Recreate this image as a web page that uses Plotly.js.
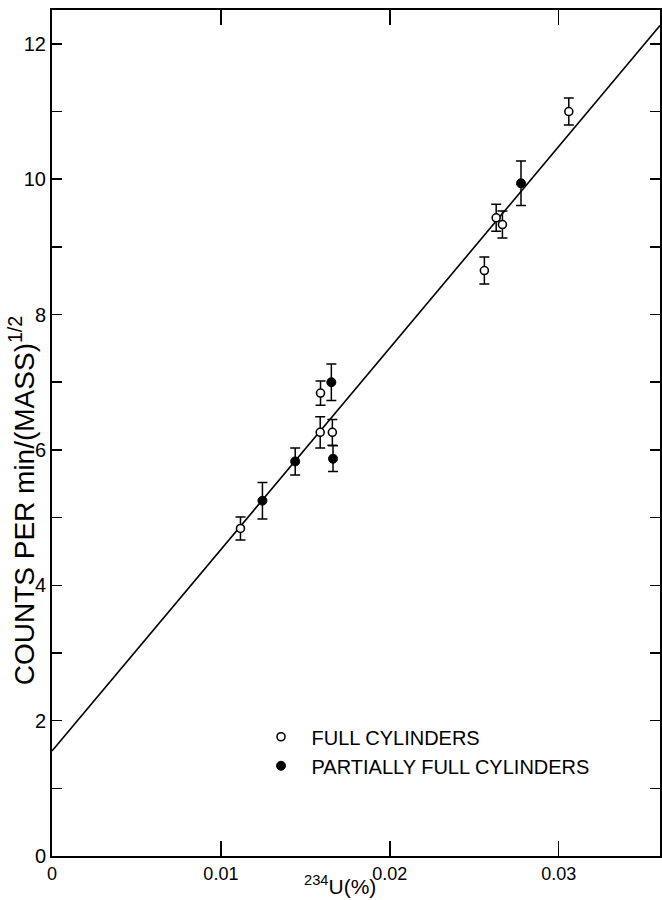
<!DOCTYPE html>
<html>
<head>
<meta charset="utf-8">
<script src="https://cdn.plot.ly/plotly-3.0.1.min.js"></script>
<style>
html,body{margin:0;padding:0;background:#fff;}
#chart{width:662px;height:900px;}
</style>
</head>
<body>
<div id="chart"></div>
<script>
// Full cylinders (open circles)
const fullX = [0.01116, 0.01588, 0.0159, 0.0166, 0.0256, 0.0263, 0.02667, 0.0306];
const fullY = [4.84, 6.26, 6.84, 6.26, 8.65, 9.43, 9.33, 11.0];
const fullErr = [0.17, 0.23, 0.18, 0.19, 0.2, 0.2, 0.2, 0.2];

// Partially full cylinders (filled circles)
const partX = [0.01246, 0.0144, 0.01654, 0.01664, 0.02777];
const partY = [5.25, 5.83, 7.0, 5.87, 9.94];
const partErr = [0.27, 0.2, 0.27, 0.19, 0.33];

// Fitted straight line
const fitX = [0, 0.036];
const fitY = [1.55, 12.27];

// Axis ticks
const xTickVals = [0, 0.01, 0.02, 0.03];
const xTickText = ['0', '0.01', '0.02', '0.03'];
const yTickVals = [0, 2, 4, 6, 8, 10, 12];
const yTickText = ['0', '2', '4', '6', '8', '10', '12'];
const yMinorVals = [1, 3, 5, 7, 9, 11];

const FONT = 'Liberation Sans, Arial, sans-serif';

const traces = [
  {
    x: fitX, y: fitY, mode: 'lines', type: 'scatter', showlegend: false,
    line: {color: 'black', width: 1.6}, hoverinfo: 'skip'
  },
  {
    x: fullX, y: fullY, mode: 'markers', type: 'scatter', name: 'FULL CYLINDERS',
    marker: {symbol: 'circle', size: 8, color: 'white', line: {color: 'black', width: 1.6}},
    error_y: {type: 'data', array: fullErr, visible: true, color: 'black', thickness: 1.5, width: 5}
  },
  {
    x: partX, y: partY, mode: 'markers', type: 'scatter', name: 'PARTIALLY FULL CYLINDERS',
    marker: {symbol: 'circle', size: 9, color: 'black', line: {color: 'black', width: 1}},
    error_y: {type: 'data', array: partErr, visible: true, color: 'black', thickness: 1.5, width: 5}
  }
];

const layout = {
  width: 662, height: 900,
  margin: {l: 52, r: 2, t: 10, b: 44},
  paper_bgcolor: 'white', plot_bgcolor: 'white',
  font: {family: FONT, color: 'black'},
  showlegend: true,
  legend: {
    x: 0.3265, y: 0.164, xanchor: 'left', yanchor: 'top',
    bgcolor: 'rgba(0,0,0,0)', borderwidth: 0,
    font: {family: FONT, size: 20, color: 'black'},
    itemwidth: 51, tracegroupgap: 0
  },
  xaxis: {
    range: [0, 0.036], showgrid: false, zeroline: false,
    showline: true, linecolor: 'black', linewidth: 2, mirror: 'ticks',
    ticks: 'inside', ticklen: 15, tickwidth: 1.5, tickcolor: 'black',
    tickmode: 'array', tickvals: xTickVals, ticktext: xTickText,
    tickfont: {family: FONT, size: 18, color: 'black'}
  },
  yaxis: {
    range: [0, 12.5], showgrid: false, zeroline: false,
    showline: true, linecolor: 'black', linewidth: 2, mirror: 'ticks',
    ticks: 'inside', ticklen: 10, tickwidth: 1.5, tickcolor: 'black',
    tickmode: 'array', tickvals: yTickVals, ticktext: yTickText,
    tickfont: {family: FONT, size: 20, color: 'black'},
    minor: {
      tickmode: 'array', tickvals: yMinorVals,
      ticks: 'inside', ticklen: 10, tickwidth: 1.5, tickcolor: 'black',
      showgrid: false
    }
  },
  annotations: [
    {
      xref: 'paper', yref: 'paper', x: -0.05, y: 0.42,
      xanchor: 'center', yanchor: 'middle', textangle: -90, showarrow: false,
      text: 'COUNTS PER min/(MASS)<sup>1/2</sup>',
      font: {family: FONT, size: 28, color: 'black'}
    },
    {
      xref: 'paper', yref: 'paper', x: 0.474, y: -0.0515,
      xanchor: 'center', yanchor: 'bottom', showarrow: false,
      text: '<sup>234</sup>U(%)',
      font: {family: FONT, size: 21, color: 'black'}
    }
  ]
};

Plotly.newPlot('chart', traces, layout, {staticPlot: true, displayModeBar: false});
</script>
</body>
</html>
